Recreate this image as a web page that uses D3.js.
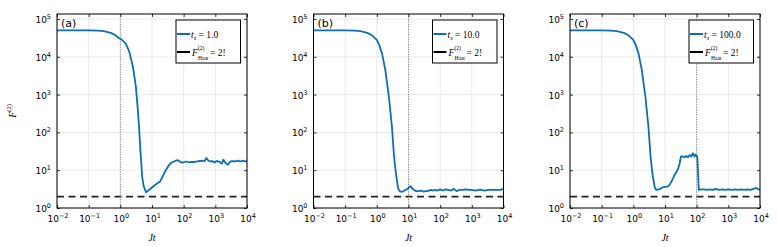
<!DOCTYPE html>
<html>
<head>
<meta charset="utf-8">
<script src="https://cdn.jsdelivr.net/npm/d3@7"></script>
<style>
  body { margin: 0; background: #fff; }
  svg { display: block; }
  .tick-label { font-family: "DejaVu Sans", sans-serif; font-size: 9px; fill: #000; }
  .math { font-family: "Liberation Serif", "DejaVu Serif", serif; fill: #000; }
</style>
</head>
<body>
<div id="chart"></div>
<script>
// panel settings
const panelNames = ["(a)", "(b)", "(c)"];
const switchTimes = [1, 10, 100];
const legendLabels = ["1.0", "10.0", "100.0"];
const haarValue = 2;

// curve of panel (a), ts = 1
const xA = [0.01, 0.02, 0.05, 0.1, 0.2, 0.3, 0.5, 0.7, 0.9, 1.0, 1.2, 1.5, 1.9, 2.5, 3.1, 3.5, 3.9, 4.3, 4.9, 5.5, 6.5,
  8, 10, 13, 18, 23, 29, 35, 42, 50, 58, 66, 75, 85, 96, 120, 150, 180, 220, 270, 330, 400, 460, 520, 600, 700, 800,
  950, 1100, 1300, 1600, 1800, 2100, 2500, 3000, 3600, 4300, 5200, 6200, 7500, 8800, 10000];
const yA = [50000, 50000, 50000, 49800, 49000, 47500, 43000, 37000, 31500, 30000, 27000, 22000, 14000, 5500, 1600, 480, 140, 34, 6.7, 3.7, 2.6,
  3.0, 3.5, 4.2, 5.0, 7.5, 11, 14, 16, 17, 18, 18.5, 17, 16, 16, 17, 16, 16.5, 16.5, 17, 17.5, 18, 17.5, 21, 18, 17, 17.5,
  16, 17.5, 17, 15, 19, 15.5, 14, 17, 17.5, 17, 18, 17, 18, 17, 17.5];

// curve of panel (b), ts = 10
const xB = [0.01, 0.02, 0.05, 0.1, 0.2, 0.3, 0.5, 0.7, 1.0, 1.2, 1.45, 1.85, 2.4, 3.0, 3.5, 4.0, 4.7, 5.5, 6.5,
  7.5, 8.5, 10, 11.5, 13, 15, 17, 20, 25, 30, 35, 40, 50, 60, 70, 85, 100, 120, 150, 180, 220, 270, 330, 400,
  500, 650, 800, 1000, 1300, 1600, 2000, 2500, 3200, 4000, 5000, 6500, 8000, 10000];
const yB = [50000, 50000, 50000, 49800, 49000, 47500, 43000, 37000, 28000, 20000, 12500, 4500, 890, 140, 23, 8.3, 3.3, 2.7, 2.7,
  2.9, 3.1, 3.4, 3.8, 3.3, 3.0, 2.8, 2.8, 2.9, 2.7, 2.8, 2.8, 3.0, 2.9, 3.0, 2.9, 3.1, 2.9, 3.1, 3.0, 2.9, 3.2, 2.8, 3.0,
  3.0, 3.1, 3.0, 3.0, 2.9, 3.0, 3.0, 2.9, 3.0, 3.0, 3.0, 3.0, 3.0, 3.2];

// curve of panel (c), ts = 100
const xC = [0.01, 0.02, 0.05, 0.1, 0.2, 0.3, 0.5, 0.7, 1.0, 1.2, 1.45, 1.85, 2.4, 3.0, 3.5, 4.0, 4.7, 5.3, 6.5,
  8.3, 10, 12, 14, 17, 20, 23, 26, 29, 32, 37, 42, 47, 53, 60, 67, 76, 85, 92, 97, 105, 117, 140, 170, 210,
  260, 320, 400, 500, 650, 800, 1000, 1300, 1600, 2000, 2500, 3200, 4000, 5000, 6200, 7600, 9000, 10000];
const yC = [50000, 50000, 50000, 49800, 49000, 47500, 43000, 37000, 28000, 20000, 12500, 4500, 890, 140, 23, 8.3, 3.6, 3.0, 3.1,
  3.5, 3.6, 3.7, 4.1, 5.5, 7.5, 9, 11, 15, 23, 23, 22, 24, 22, 25, 23, 28, 23, 26, 25, 22, 3.0, 3.1, 3.1, 3.0,
  3.1, 3.0, 3.2, 3.0, 3.1, 3.0, 3.1, 3.0, 3.1, 3.0, 3.1, 3.0, 3.1, 3.0, 3.2, 3.4, 3.1, 3.0];

const xTicks = [1e-2, 1e-1, 1e0, 1e1, 1e2, 1e3, 1e4];
const yTicks = [1e0, 1e1, 1e2, 1e3, 1e4, 1e5];

const curves = [[xA, yA], [xB, yB], [xC, yC]];

const width = 777, height = 247;
const panelLeft = [57, 313.5, 570];
const plotW = 190;
const margin = { top: 14, bottom: 208 };
const blue = "#0a6fb5";

const svg = d3.select("#chart").append("svg")
  .attr("width", width)
  .attr("height", height);

const yScale = d3.scaleLog()
  .domain([1, Math.pow(10, 5.132)])
  .range([margin.bottom, margin.top]);

function expLabel(sel, v) {
  const e = Math.round(Math.log10(v));
  sel.append("tspan").text("10");
  sel.append("tspan").attr("dy", -4).attr("font-size", "6.5px").text(e === 0 ? "0" : (e < 0 ? "\u2212" + (-e) : e));
}

panelNames.forEach(function(name, i) {
  const left = panelLeft[i];
  const xScale = d3.scaleLog()
    .domain([1e-2, 1e4])
    .range([left, left + plotW]);

  const g = svg.append("g");

  // grid
  g.selectAll(".gx").data(xTicks).enter().append("line")
    .attr("x1", d => xScale(d)).attr("x2", d => xScale(d))
    .attr("y1", margin.top).attr("y2", margin.bottom)
    .attr("stroke", "#e3e3e3").attr("stroke-width", 0.8);
  g.selectAll(".gy").data(yTicks).enter().append("line")
    .attr("x1", left).attr("x2", left + plotW)
    .attr("y1", d => yScale(d)).attr("y2", d => yScale(d))
    .attr("stroke", "#e3e3e3").attr("stroke-width", 0.8);

  // dashed Haar value
  g.append("line")
    .attr("x1", left).attr("x2", left + plotW)
    .attr("y1", yScale(haarValue)).attr("y2", yScale(haarValue))
    .attr("stroke", "#222").attr("stroke-width", 1.6)
    .attr("stroke-dasharray", "7,4.5");

  // switching time
  g.append("line")
    .attr("x1", xScale(switchTimes[i])).attr("x2", xScale(switchTimes[i]))
    .attr("y1", margin.top).attr("y2", margin.bottom)
    .attr("stroke", "#888").attr("stroke-width", 1)
    .attr("stroke-dasharray", "1.2,1.3");

  // the curve
  const line = d3.line()
    .x(d => xScale(d[0]))
    .y(d => yScale(d[1]));
  const pts = curves[i][0].map((x, k) => [x, curves[i][1][k]]);
  g.append("path")
    .datum(pts)
    .attr("fill", "none")
    .attr("stroke", blue)
    .attr("stroke-width", 1.8)
    .attr("stroke-linejoin", "round")
    .attr("d", line);

  // frame + inner ticks on all sides
  g.append("rect")
    .attr("x", left).attr("y", margin.top)
    .attr("width", plotW).attr("height", margin.bottom - margin.top)
    .attr("fill", "none").attr("stroke", "#000").attr("stroke-width", 1);

  const axB = d3.axisBottom(xScale).tickValues(xTicks).tickSize(-3).tickFormat("");
  const axT = d3.axisTop(xScale).tickValues(xTicks).tickSize(-3).tickFormat("");
  const axL = d3.axisLeft(yScale).tickValues(yTicks).tickSize(-3).tickFormat("");
  const axR = d3.axisRight(yScale).tickValues(yTicks).tickSize(-3).tickFormat("");
  [[axB, "translate(0," + margin.bottom + ")"], [axT, "translate(0," + margin.top + ")"],
   [axL, "translate(" + left + ",0)"], [axR, "translate(" + (left + plotW) + ",0)"]].forEach(function(a) {
    const ag = g.append("g").attr("transform", a[1]).call(a[0]);
    ag.select(".domain").remove();
    ag.selectAll("line").attr("stroke", "#000").attr("stroke-width", 0.8);
  });

  // tick labels
  xTicks.forEach(function(v) {
    const t = g.append("text").attr("class", "tick-label")
      .attr("x", xScale(v) + 1).attr("y", 222)
      .attr("text-anchor", "middle");
    expLabel(t, v);
  });
  yTicks.forEach(function(v) {
    const t = g.append("text").attr("class", "tick-label")
      .attr("x", left - 6).attr("y", yScale(v) + 4)
      .attr("text-anchor", "end");
    expLabel(t, v);
  });

  // x label
  g.append("text").attr("class", "math")
    .attr("x", left + plotW / 2).attr("y", 241)
    .attr("text-anchor", "middle")
    .attr("font-size", "10px").attr("font-style", "italic")
    .text("Jt");

  // panel label
  g.append("text")
    .attr("x", left + 4).attr("y", 27)
    .attr("font-family", "DejaVu Sans, sans-serif")
    .attr("font-size", "11px")
    .text(name);

  // legend
  const lx = left + 119, ly = 20;
  g.append("rect")
    .attr("x", lx).attr("y", ly).attr("width", 64.5).attr("height", 43)
    .attr("fill", "#fff").attr("stroke", "#000").attr("stroke-width", 1);
  g.append("line")
    .attr("x1", lx + 1).attr("x2", lx + 14)
    .attr("y1", ly + 14).attr("y2", ly + 14)
    .attr("stroke", blue).attr("stroke-width", 2);
  g.append("line")
    .attr("x1", lx + 1).attr("x2", lx + 14)
    .attr("y1", ly + 32).attr("y2", ly + 32)
    .attr("stroke", "#000").attr("stroke-width", 2);

  const t1 = g.append("text").attr("class", "math")
    .attr("x", lx + 15).attr("y", ly + 17.5).attr("font-size", "9.5px");
  t1.append("tspan").attr("font-style", "italic").text("t");
  t1.append("tspan").attr("font-style", "italic").attr("font-size", "6.5px").attr("dy", 2).text("s");
  t1.append("tspan").attr("dy", -2).text(" = " + legendLabels[i]);

  // F with stacked super/subscript, kept as separate texts
  g.append("text").attr("class", "math")
    .attr("x", lx + 16).attr("y", ly + 35.5).attr("font-size", "9.5px")
    .attr("font-style", "italic").text("F");
  g.append("text").attr("class", "math")
    .attr("x", lx + 22).attr("y", ly + 29.5).attr("font-size", "5.5px")
    .text("(2)");
  g.append("text").attr("class", "math")
    .attr("x", lx + 22).attr("y", ly + 39.5).attr("font-size", "5.5px")
    .text("Haar");
  g.append("text").attr("class", "math")
    .attr("x", lx + 34).attr("y", ly + 35.5).attr("font-size", "9.5px")
    .text("= 2!");
});

// y label
const yl = svg.append("text").attr("class", "math")
  .attr("transform", "translate(16,111) rotate(-90)")
  .attr("text-anchor", "middle")
  .attr("font-size", "10px");
yl.append("tspan").attr("font-style", "italic").text("F");
yl.append("tspan").attr("font-size", "6.5px").attr("dy", -5).text("(2)");
</script>
</body>
</html>
